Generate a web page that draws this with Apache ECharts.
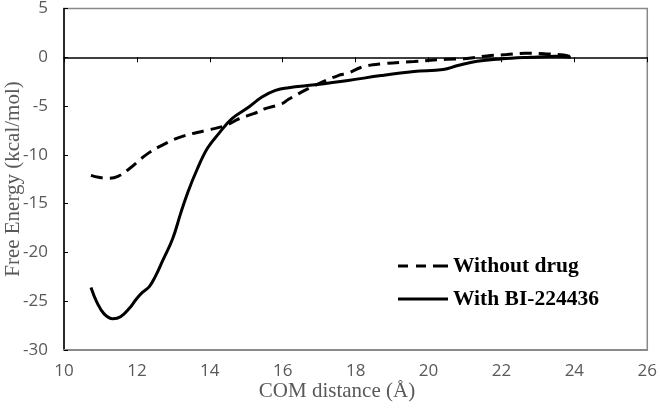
<!DOCTYPE html>
<html>
<head>
<meta charset="utf-8">
<script src="https://cdn.jsdelivr.net/npm/echarts@6/dist/echarts.min.js"></script>
<style>html,body{margin:0;padding:0;background:#fff}#c{width:660px;height:412px}</style>
</head>
<body>
<div id="c"></div>
<script>
const xTicks = [10, 12, 14, 16, 18, 20, 22, 24, 26];
const yTicks = [-30, -25, -20, -15, -10, -5, 0, 5];

const withoutX = [10.74, 10.95, 11.16, 11.48, 11.8, 12.25, 12.7, 13.25, 13.9, 14.43, 14.8, 15.2, 15.52, 15.98, 16.16, 16.88, 17.52, 17.79, 18.16, 18.7, 19.6, 20.5, 20.97, 21.6, 22.15, 22.65, 23.2, 23.7, 23.88];
const withoutY = [-12.1, -12.3, -12.4, -12.2, -11.4, -10.0, -9.0, -8.1, -7.5, -7.0, -6.3, -5.78, -5.27, -4.76, -4.3, -2.89, -1.87, -1.63, -1.02, -0.68, -0.44, -0.2, -0.15, 0.14, 0.28, 0.41, 0.35, 0.24, 0.07];

const withX = [10.74, 10.9, 11.1, 11.34, 11.55, 11.8, 11.98, 12.15, 12.34, 12.5, 12.7, 12.98, 13.2, 13.4, 13.65, 13.93, 14.25, 14.6, 15.07, 15.43, 15.8, 16.16, 16.88, 17.79, 18.7, 19.6, 20.4, 20.8, 21.33, 21.97, 22.8, 23.5, 23.9];
const withY = [-23.6, -25.1, -26.3, -26.8, -26.6, -25.7, -24.8, -24.1, -23.5, -22.5, -20.9, -18.6, -16.0, -13.8, -11.5, -9.35, -7.8, -6.3, -5.1, -4.08, -3.4, -3.12, -2.82, -2.38, -1.87, -1.46, -1.25, -0.85, -0.41, -0.17, 0, 0.1, 0];

const seriesNames = ['Without drug', 'With BI-224436'];
const xTitle = 'COM distance (Å)';
const yTitle = 'Free Energy (kcal/mol)';

const pairs = (xs, ys) => xs.map((x, i) => [x, ys[i]]);
const chart = echarts.init(document.getElementById('c'), null, {renderer: 'canvas'});
const labelFont = {fontFamily: 'Open Sans', fontSize: 17, color: '#595959'};
chart.setOption({
  animation: false,
  backgroundColor: '#fff',
  grid: {left: 64, right: 9, top: 8, bottom: 62, show: true, borderColor: '#8a8a8a', borderWidth: 1.5, containLabel: false},
  xAxis: [
    {type: 'value', min: xTicks[0], max: xTicks[xTicks.length - 1], interval: 2, position: 'bottom',
     axisLine: {onZero: false, lineStyle: {color: '#8a8a8a', width: 2}},
     axisTick: {show: false}, splitLine: {show: false},
     axisLabel: Object.assign({margin: 13}, labelFont)},
    {type: 'value', min: xTicks[0], max: xTicks[xTicks.length - 1], interval: 2, position: 'top',
     axisLine: {onZero: true, lineStyle: {color: '#000', width: 1.5}},
     axisTick: {show: true, inside: true, length: 5, lineStyle: {color: '#000', width: 1}},
     axisLabel: {show: false}, splitLine: {show: false}}
  ],
  yAxis: {type: 'value', min: yTicks[0], max: yTicks[yTicks.length - 1], interval: 5,
    axisLine: {show: true, onZero: false, lineStyle: {color: '#000', width: 1.5}},
    axisTick: {show: true, inside: true, length: 4, lineStyle: {color: '#000'}},
    splitLine: {show: false},
    axisLabel: Object.assign({margin: 16}, labelFont)},
  legend: {orient: 'vertical', left: 398, top: 255, padding: 0, itemWidth: 50, itemHeight: 3, itemGap: 11,
    textStyle: {fontFamily: 'Liberation Serif', fontWeight: 'bold', fontSize: 21.5, color: '#000'},
    data: [
      {name: seriesNames[0], icon: 'path://M0,0h10v3h-10zM18,0h10v3h-10zM35,0h15v3h-15z'},
      {name: seriesNames[1], icon: 'path://M0,0h50v3h-50z'}
    ]},
  graphic: [
    {type: 'text', x: 337, y: 391, style: {text: xTitle, font: '21px "Liberation Serif"', fill: '#595959', textAlign: 'center', textVerticalAlign: 'middle'}},
    {type: 'text', x: 13, y: 179, rotation: Math.PI / 2, style: {text: yTitle, font: '21px "Liberation Serif"', fill: '#595959', textAlign: 'center', textVerticalAlign: 'middle'}}
  ],
  series: [
    {name: seriesNames[0], type: 'line', xAxisIndex: 0, data: pairs(withoutX, withoutY), symbol: 'none', smooth: 0.4,
     lineStyle: {color: '#000', width: 3, type: [12, 7]}, itemStyle: {color: '#000'}},
    {name: seriesNames[1], type: 'line', xAxisIndex: 0, data: pairs(withX, withY), symbol: 'none', smooth: 0.4,
     lineStyle: {color: '#000', width: 3, type: 'solid'}, itemStyle: {color: '#000'}}
  ]
});
</script>
</body>
</html>
